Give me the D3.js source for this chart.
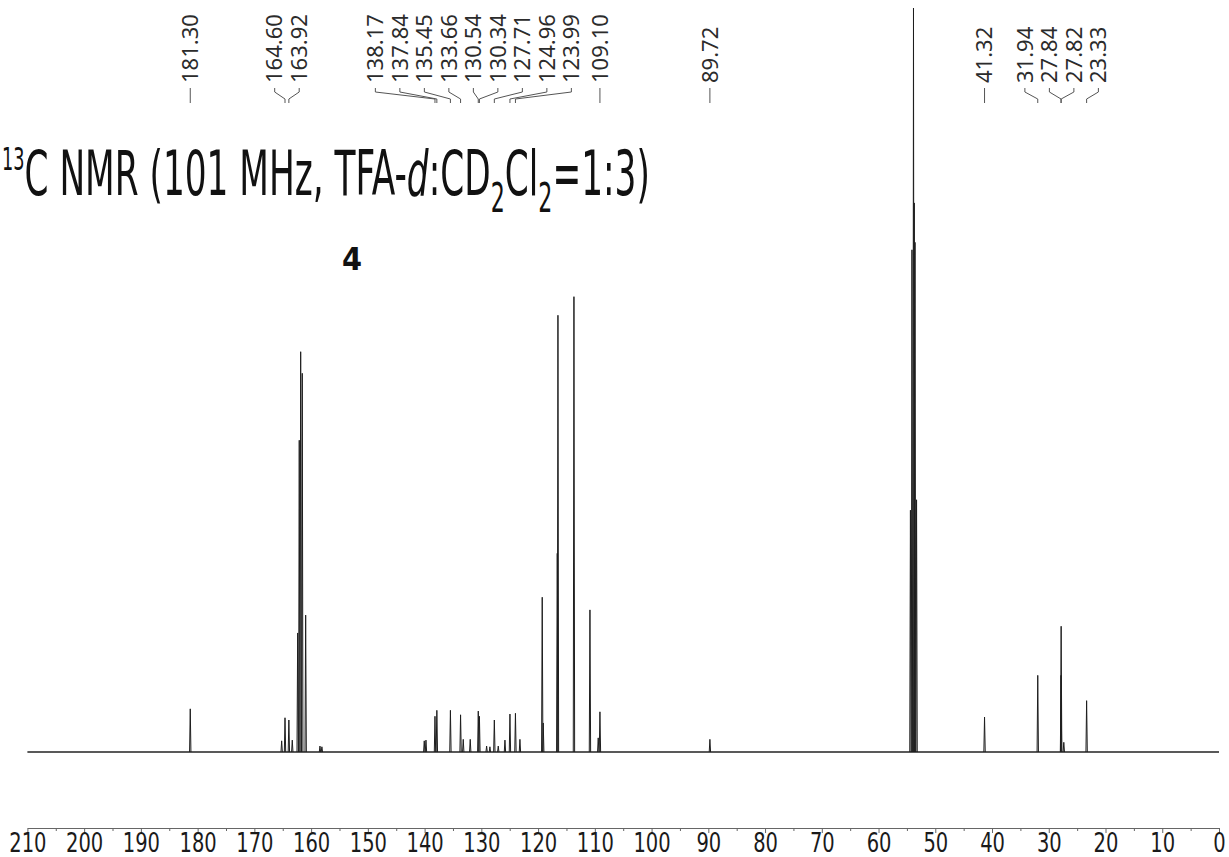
<!DOCTYPE html>
<html lang="en">
<head>
  <meta charset="UTF-8">
  <title>13C NMR spectrum</title>
  <script src="https://cdn.jsdelivr.net/npm/d3@7"></script>
  <style>
    html, body {
      margin: 0;
      padding: 0;
      background: #fff;
    }
    svg { display: block; }
    .narrow { font-family: "Liberation Sans Narrow", "Arial Narrow", "DejaVu Sans Condensed", sans-serif; }
    .peak-label { font-family: "Noto Sans", "Open Sans", sans-serif; font-size: 22px; fill: #2b2b2b; }
  </style>
</head>
<body>
  <svg id="chart" width="1229" height="857"></svg>
  <script>
    // peak positions (ppm) and heights (% of the tallest line, the CD2Cl2 quintet centre)
    const peakPpm = [
      181.30, 165.19, 164.60, 163.92, 163.32, 162.37, 162.09, 161.84, 161.56, 160.96,
      158.44, 158.10, 140.06, 139.76, 138.17, 137.84, 135.45, 133.66, 133.19, 131.96,
      130.54, 130.34, 129.07, 128.49, 127.71, 127.02, 125.84, 124.96, 123.99, 123.20,
      119.27, 119.09, 116.62, 116.50, 113.68, 110.86, 109.40, 109.10, 89.72,
      54.38, 54.11, 53.84, 53.70, 53.57, 53.30,
      41.32, 31.94, 27.84, 27.82, 27.35, 23.33
    ];
    const peakHeight = [
      5.8, 1.5, 4.6, 4.3, 1.6, 16.0, 41.9, 53.8, 50.9, 18.4,
      0.8, 0.7, 1.5, 1.6, 4.8, 5.6, 5.6, 5.0, 1.7, 1.7,
      5.5, 4.8, 0.8, 0.7, 4.3, 0.8, 1.6, 5.1, 5.2, 1.7,
      20.8, 3.9, 26.7, 58.7, 61.2, 19.1, 1.9, 5.4, 1.7,
      32.5, 67.5, 100, 73.8, 68.5, 33.9,
      4.7, 10.3, 10.3, 16.9, 1.3, 6.9
    ];
    // picked peaks shown at the top
    const labelPpm = [
      181.30, 164.60, 163.92, 138.17, 137.84, 135.45, 133.66, 130.54, 130.34,
      127.71, 124.96, 123.99, 109.10, 89.72, 41.32, 31.94, 27.84, 27.82, 23.33
    ];
    const tickLabels = [210, 200, 190, 180, 170, 160, 150, 140, 130, 120, 110,
      100, 90, 80, 70, 60, 50, 40, 30, 20, 10, 0];
    const minorTicks = [205, 195, 185, 175, 165, 155, 145, 135, 125, 115, 105,
      95, 85, 75, 65, 55, 45, 35, 25, 15, 5];

    const svg = d3.select('#chart');

    const x = d3.scaleLinear().domain([210, 0]).range([27.4, 1219]);
    const y = d3.scaleLinear().domain([0, 100]).range([752, 8]);

    const line = d3.line().x(d => x(d[0])).y(d => y(d[1]));

    // baseline
    svg.append('path')
      .attr('d', line([[210, 0], [0, 0]]))
      .attr('fill', 'none')
      .attr('stroke', '#222')
      .attr('stroke-width', 1.6);

    // spectrum lines
    const halfW = 0.12;
    svg.append('g')
      .selectAll('path')
      .data(peakPpm.map((p, i) => [p, peakHeight[i]]))
      .join('path')
      .attr('d', d => line([[d[0] + halfW, 0], [d[0], d[1]], [d[0] - halfW, 0]]))
      .attr('fill', 'none')
      .attr('stroke', '#1e1e1e')
      .attr('stroke-width', 1);

    // axis
    const axisY = 828;
    const axis = svg.append('g')
      .attr('transform', `translate(0,${axisY})`)
      .call(d3.axisBottom(x).tickValues(tickLabels).tickSize(5).tickSizeOuter(0)
        .tickFormat(d3.format('d')));
    axis.attr('font-family', null).attr('font-size', null);
    axis.select('.domain').attr('stroke', '#666').attr('stroke-width', 1.2);
    axis.selectAll('.tick line').attr('stroke', '#666');
    axis.selectAll('.tick text')
      .attr('class', 'narrow')
      .attr('font-size', 27)
      .attr('fill', '#1a1a1a')
      .attr('y', 24)
      .attr('dy', 0)
      .attr('textLength', d => String(d).length * 12.4)
      .attr('lengthAdjust', 'spacingAndGlyphs');

    const minor = svg.append('g')
      .attr('transform', `translate(0,${axisY})`)
      .call(d3.axisBottom(x).tickValues(minorTicks).tickSize(3).tickSizeOuter(0).tickFormat(''));
    minor.select('.domain').remove();
    minor.selectAll('.tick line').attr('stroke', '#666');

    // peak label positions: spread overlapping labels evenly around their mean
    const gap = 24.5;
    function spread(xs) {
      let groups = xs.map(v => ({ xs: [v], start: v }));
      let merged = true;
      while (merged) {
        merged = false;
        for (let i = 0; i < groups.length - 1; i++) {
          const a = groups[i], b = groups[i + 1];
          const aEnd = a.start + (a.xs.length - 1) * gap;
          if (b.start - aEnd < gap) {
            const all = a.xs.concat(b.xs);
            const start = d3.mean(all) - (all.length - 1) * gap / 2;
            groups.splice(i, 2, { xs: all, start });
            merged = true;
            break;
          }
        }
      }
      return groups.flatMap(g => g.xs.map((_, k) => g.start + k * gap));
    }
    const peakX = labelPpm.map(p => x(p));
    const labelX = spread(peakX);

    const labels = svg.append('g');
    labels.selectAll('path')
      .data(labelPpm)
      .join('path')
      .attr('d', (d, i) => `M${labelX[i]},88 L${labelX[i]},92 L${peakX[i]},99 L${peakX[i]},103`)
      .attr('fill', 'none')
      .attr('stroke', '#555')
      .attr('stroke-width', 1);
    labels.selectAll('text')
      .data(labelPpm)
      .join('text')
      .attr('class', 'peak-label')
      .attr('transform', (d, i) => `translate(${labelX[i]},83) rotate(-90)`)
      .attr('dy', '0.35em')
      .text(d => d.toFixed(2));

    // title
    const title = svg.append('text')
      .attr('class', 'narrow')
      .attr('x', 0)
      .attr('y', 195)
      .attr('font-size', 62)
      .attr('fill', '#111');
    title.append('tspan').attr('font-size', 32).attr('dy', -25).text('13');
    title.append('tspan').attr('dy', 25).text('C NMR (101 MHz, TFA-');
    title.append('tspan').attr('font-style', 'italic').text('d');
    title.append('tspan').text(':CD');
    title.append('tspan').attr('font-size', 40).attr('dy', 17).text('2');
    title.append('tspan').attr('dy', -17).text('Cl');
    title.append('tspan').attr('font-size', 40).attr('dy', 17).text('2');
    title.append('tspan').attr('dy', -17).text('=1:3)');
    const tw = title.node().getComputedTextLength();
    title.attr('transform', `translate(2,0) scale(${648 / tw},1)`);

    svg.append('text')
      .attr('class', 'narrow')
      .attr('x', 352)
      .attr('y', 270)
      .attr('text-anchor', 'middle')
      .attr('font-size', 32)
      .attr('font-weight', 'bold')
      .attr('fill', '#111')
      .text('4');
  </script>
</body>
</html>
